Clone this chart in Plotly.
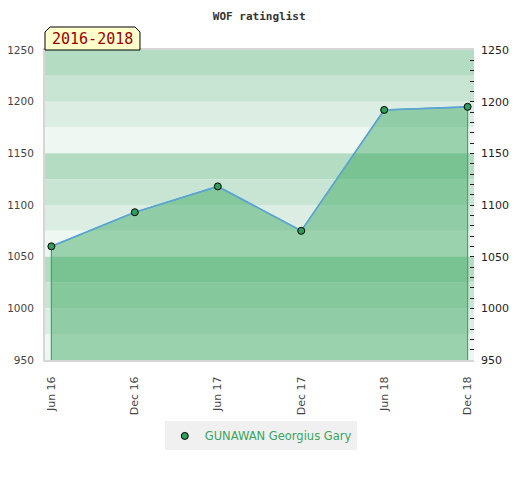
import plotly.graph_objects as go

# rating history
dates = ['2016-06-01', '2016-12-01', '2017-06-01', '2017-12-01', '2018-06-01', '2018-12-01']
tick_labels = ['Jun 16', 'Dec 16', 'Jun 17', 'Dec 17', 'Jun 18', 'Dec 18']
ratings = [1060, 1093, 1118, 1075, 1192, 1195]
player = 'GUNAWAN Georgius Gary'
period = '2016-2018'

y_lo, y_hi = 950, 1250
band_colors = ['#b3dcc2', '#c8e5d3', '#dcede3', '#eff7f2']

fig = go.Figure()

# filled area under the rating line
fig.add_trace(go.Scatter(
    x=[dates[0]] + dates + [dates[-1]],
    y=[y_lo] + ratings + [y_lo],
    mode='lines', fill='toself',
    fillcolor='rgba(50,163,89,0.45)',
    line=dict(color='#3fa964', width=1.2),
    showlegend=False, hoverinfo='skip'))

fig.add_trace(go.Scatter(
    x=dates, y=ratings, mode='lines',
    line=dict(color='#5ca3dd', width=1.6),
    showlegend=False))

fig.add_trace(go.Scatter(
    x=dates, y=ratings, mode='markers', name=player, yaxis='y2',
    marker=dict(size=7, color='#2e9e5b', line=dict(color='black', width=1))))

# horizontal bands, 25 points each
for i, top in enumerate(range(y_hi, y_lo, -25)):
    fig.add_shape(type='rect', xref='paper', yref='y', x0=0, x1=1,
                  y0=top - 25, y1=top, fillcolor=band_colors[i % 4],
                  line_width=0, layer='below')

# period tag with beveled top corners
fig.add_shape(type='path', xref='paper', yref='paper',
              path='M 0,1 L 0,1.058 L 0.0117,1.0742 L 0.2097,1.0742 L 0.2214,1.058 L 0.2214,1 Z',
              fillcolor='#ffffcc', line=dict(color='black', width=1), layer='above')
fig.add_annotation(text=period, xref='paper', yref='paper', x=0.1107, y=1.037,
                   showarrow=False, xanchor='center', yanchor='middle',
                   font=dict(family='DejaVu Sans Mono', size=15, color='#990000'))

# the page adds an 8px body margin, so margins are offset to compensate
fig.update_layout(
    width=520, height=480,
    margin=dict(l=37, r=54, t=42, b=128, autoexpand=False),
    paper_bgcolor='white', plot_bgcolor='white',
    title=dict(text='WOF ratinglist', x=0.483, xanchor='center', y=0.992, yanchor='top',
               font=dict(family='DejaVu Sans Mono', size=11, color='#333', weight='bold')),
    xaxis=dict(type='date', range=['2016-05-18', '2018-12-15'],
               tickvals=dates, ticktext=tick_labels, tickangle=-90,
               showgrid=False, zeroline=False, ticks='', automargin=False,
               showline=True, mirror=True, linecolor='#d6d6d6', linewidth=2,
               tickfont=dict(family='DejaVu Sans', size=11, color='#444'),
               ticklabelstandoff=10),
    yaxis=dict(range=[y_lo, y_hi], tick0=950, dtick=50, automargin=False,
               showgrid=False, zeroline=False, ticks='',
               showline=True, linecolor='#d6d6d6', linewidth=2,
               tickfont=dict(family='DejaVu Sans', size=10.5, color='#444'),
               ticklabelstandoff=7),
    yaxis2=dict(range=[y_lo, y_hi], overlaying='y', side='right', tick0=950, dtick=50,
                showgrid=False, zeroline=False, showline=False, automargin=False,
                ticks='inside', ticklen=4, tickcolor='#222',
                minor=dict(tick0=950, dtick=10, ticks='inside', ticklen=4, tickcolor='#222'),
                tickfont=dict(family='DejaVu Sans', size=11, color='#222'),
                ticklabelstandoff=6),
    legend=dict(orientation='h', x=0.503, xanchor='center', y=-0.245, yanchor='middle',
                bgcolor='#f0f0f0', itemwidth=30,
                font=dict(family='DejaVu Sans', size=11.5, color='#3aa560')),
)

fig.write_html('out.html')
